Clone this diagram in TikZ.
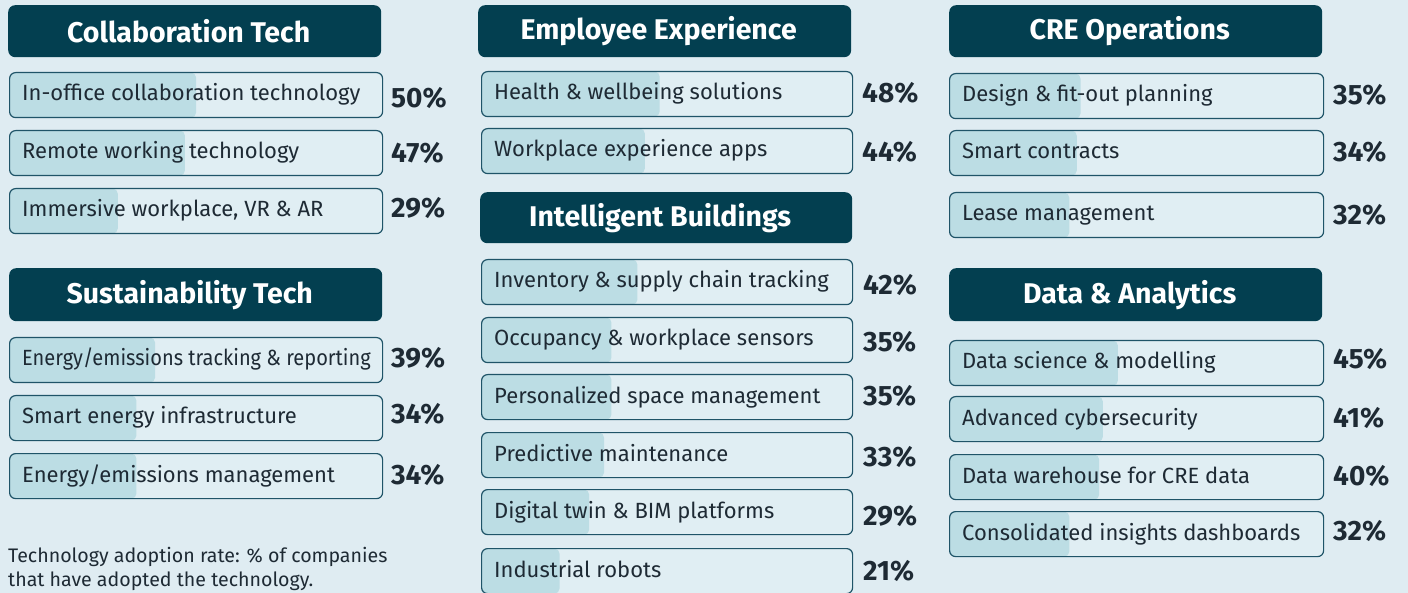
\documentclass[tikz,border=0pt]{standalone}
\usepackage{fontspec}
\setmainfont{Fira Sans}
\usetikzlibrary{calc}
\definecolor{bg}{HTML}{DFECF2}
\definecolor{head}{HTML}{033F50}
\definecolor{barbg}{HTML}{E0EEF3}
\definecolor{barfill}{HTML}{BCDDE4}
\definecolor{barline}{HTML}{1F5468}
\definecolor{ink}{HTML}{1E2A34}
\tikzset{
  header/.style={fill=head, rounded corners=7pt, text=white, font=\fontsize{28.5}{32}\selectfont\bfseries, anchor=north west, inner sep=0pt},
  barbox/.style={draw=barline, line width=1.2pt, fill=barbg, rounded corners=6pt, anchor=north west, inner sep=0pt, minimum height=45pt},
  bartext/.style={anchor=base west, text=ink, font=\fontsize{22}{26}\selectfont, inner sep=0pt},
  pcttext/.style={anchor=base west, text=ink, font=\fontsize{28}{32}\selectfont\bfseries, inner sep=0pt},
  notetext/.style={anchor=base west, text=ink, font=\fontsize{19.6}{24}\selectfont, inner sep=0pt}
}
\newcommand\headbox[6]{%
  \node[header, minimum width={(#4-#2)*1pt}, minimum height={(#5-#3)*1pt}] (#1) at (#2,#3) {#6\hspace*{12pt}};}
\newcommand\techbar[9]{%
  \node[barbox, minimum width=#4pt, path picture={\fill[barfill, rounded corners=5pt] (path picture bounding box.north west) rectangle ([xshift=#5*#4pt]path picture bounding box.south west);}] (#1) at (#2,#3) {};
  \node[bartext] (#1t) at ($(#1.north west)+(13,29)$) {#6};
  \node[pcttext] (#1p) at (#8,#9) {#7};}
\begin{document}
\begin{tikzpicture}[x=1pt,y=-1pt]
\useasboundingbox (0,0) rectangle (1408,593);
\fill[bg] (0,0) rectangle (1408,593);
\begin{scope}
\clip (0,0) rectangle (1408,593);
% column 1
\headbox{hCollab}{8}{5}{381}{57}{Collaboration Tech}
\techbar{c1}{9}{72}{373}{0.50}{In-office collaboration technology}{50\%}{391}{108}
\techbar{c2}{9}{130}{373}{0.47}{Remote working technology}{47\%}{391}{163}
\techbar{c3}{9}{188}{373}{0.29}{Immersive workplace, VR \& AR}{29\%}{391}{218}
\headbox{hSust}{9}{268}{382}{321}{Sustainability Tech}
\techbar{s1}{9}{337}{373}{0.39}{\scalebox{0.91}[1]{Energy/emissions tracking \& reporting}}{39\%}{391}{368}
\techbar{s2}{9}{395}{373}{0.34}{Smart energy infrastructure}{34\%}{391}{423}
\techbar{s3}{9}{453}{373}{0.34}{Energy/emissions management}{34\%}{391}{484}
\node[notetext] (note1) at (8,562) {Technology adoption rate: \% of companies};
\node[notetext] (note2) at (8,586) {that have adopted the technology.};
% column 2
\headbox{hEmp}{478}{5}{851}{57}{Employee Experience}
\techbar{e1}{481}{71}{371}{0.48}{Health \& wellbeing solutions}{48\%}{862}{103}
\techbar{e2}{481}{128}{371}{0.44}{Workplace experience apps}{44\%}{862}{162}
\headbox{hIntel}{480}{192}{852}{243}{Intelligent Buildings}
\techbar{i1}{481}{259}{371}{0.42}{Inventory \& supply chain tracking}{42\%}{863}{295}
\techbar{i2}{481}{317}{371}{0.35}{Occupancy \& workplace sensors}{35\%}{863}{352}
\techbar{i3}{481}{374}{371}{0.35}{Personalized space management}{35\%}{863}{406}
\techbar{i4}{481}{432}{371}{0.33}{Predictive maintenance}{33\%}{863}{466}
\techbar{i5}{481}{489}{371}{0.29}{Digital twin \& BIM platforms}{29\%}{863}{525}
\techbar{i6}{481}{548}{371}{0.21}{Industrial robots}{21\%}{863}{580}
% column 3
\headbox{hCRE}{949}{5}{1322}{57}{CRE Operations}
\techbar{r1}{949}{73}{374}{0.35}{Design \& fit-out planning}{35\%}{1333}{105}
\techbar{r2}{949}{130}{374}{0.34}{Smart contracts}{34\%}{1333}{162}
\techbar{r3}{949}{192}{374}{0.32}{Lease management}{32\%}{1333}{225}
\headbox{hData}{949}{268}{1322}{321}{Data \& Analytics}
\techbar{d1}{949}{340}{374}{0.45}{Data science \& modelling}{45\%}{1333}{369}
\techbar{d2}{949}{396}{374}{0.41}{Advanced cybersecurity}{41\%}{1333}{427}
\techbar{d3}{949}{454}{374}{0.40}{Data warehouse for CRE data}{40\%}{1333}{485}
\techbar{d4}{949}{511}{374}{0.32}{Consolidated insights dashboards}{32\%}{1333}{540}
\end{scope}
\end{tikzpicture}
\end{document}
